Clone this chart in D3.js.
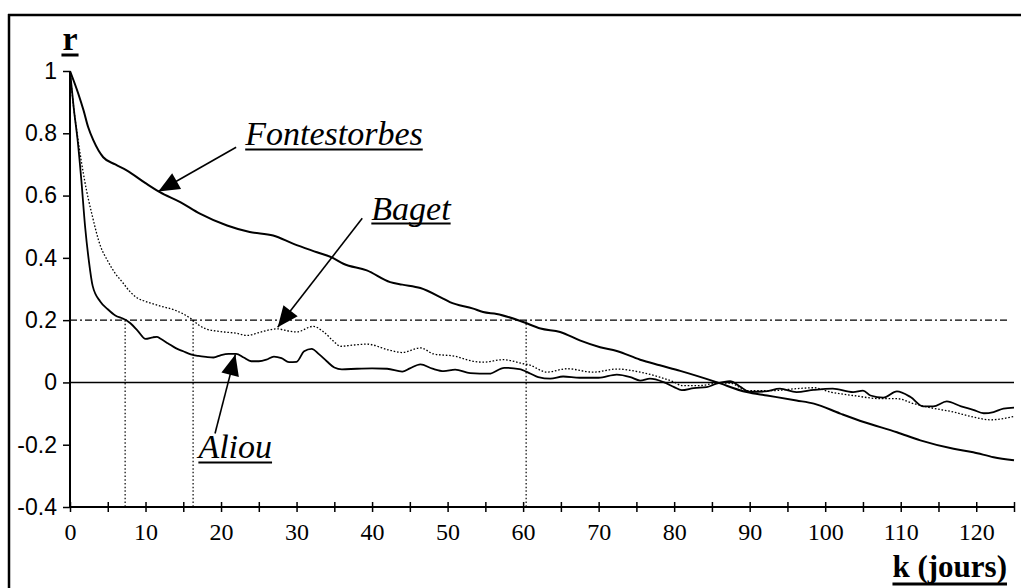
<!DOCTYPE html>
<html><head><meta charset="utf-8">
<script src="https://cdn.jsdelivr.net/npm/d3@7"></script>
<style>
html,body{margin:0;padding:0;background:#fff;}
svg{display:block;}
text{font-family:'Liberation Serif','Times New Roman',serif;fill:#000;}
</style></head><body>
<svg id="c" width="1021" height="588"></svg>
<script>
// ---- data ----
const fontK = [0,1.1,1.8,2.4,3.1,4.4,6,7.5,10,11.9,14.6,17.2,20.8,23.8,26.9,29.6,32.7,34.8,36.2,39.3,42.4,44,46.4,49.4,50.3,53.4,54.7,56.5,60,62.3,64.9,67.5,70.2,72.4,75.5,78.1,80.8,85.6,89.6,92.3,96.2,98.5,102,105.1,109.5,112.6,117,119.6,122.3,125];
const fontR = [1,0.927,0.873,0.82,0.777,0.723,0.70,0.681,0.64,0.611,0.579,0.542,0.504,0.483,0.472,0.445,0.418,0.40,0.381,0.36,0.322,0.314,0.303,0.269,0.258,0.237,0.226,0.22,0.194,0.173,0.162,0.135,0.113,0.101,0.073,0.055,0.037,0.001,-0.031,-0.042,-0.058,-0.068,-0.1,-0.127,-0.16,-0.186,-0.213,-0.224,-0.24,-0.25];

const bagetK = [0,0.5,1,2,3,4,5,6,7,8,9,10,12,14,16,17,18,20,22,23.5,25,27.4,29,30,32.2,33.6,35,35.8,37.5,39.3,42.4,44,46.4,48.1,51.2,52.5,54.7,57.4,60,61,62.3,63.1,65.8,69.3,72.4,75.5,78.1,80,81,83.4,85.2,87.4,89.6,93.2,96.2,98.5,100.7,103.7,107.3,109.5,111.7,113.9,117,119.6,121.9,125];
const bagetR = [1,0.88,0.79,0.64,0.53,0.44,0.39,0.35,0.32,0.29,0.27,0.26,0.245,0.231,0.205,0.185,0.172,0.163,0.158,0.151,0.16,0.172,0.165,0.162,0.18,0.162,0.13,0.116,0.12,0.123,0.103,0.096,0.111,0.092,0.083,0.073,0.065,0.073,0.06,0.055,0.039,0.033,0.044,0.033,0.043,0.033,0.017,0.001,-0.01,-0.01,-0.004,-0.002,-0.026,-0.026,-0.02,-0.017,-0.031,-0.042,-0.052,-0.052,-0.068,-0.081,-0.095,-0.111,-0.12,-0.109];

const aliouK = [0,0.5,1,1.5,2,2.5,3,4,5,6,7,7.5,8,9,10,11,11.5,12,13,14,15,16,17,18,19,20,21,22,23,24,25,26,27,28,29,30,31,32,33,34,35,36,38,40,42,44,45,46.4,48,49.5,51,53,55.5,57.5,59.5,61,62,63.6,65.3,67.5,70,72.4,74.2,75.5,76.8,78.6,80,81,82.6,84.3,85.6,87.4,88.7,90,92,94,96.2,98.5,101,103.7,105,106,107.7,109.5,111.3,113,114.3,116.1,118,119.6,121,122.3,123.6,125];
const aliouR = [1,0.88,0.78,0.65,0.50,0.39,0.31,0.26,0.235,0.215,0.205,0.199,0.19,0.165,0.14,0.145,0.146,0.14,0.125,0.11,0.1,0.09,0.085,0.082,0.08,0.088,0.092,0.092,0.08,0.068,0.068,0.073,0.083,0.078,0.065,0.066,0.1,0.108,0.09,0.068,0.048,0.042,0.044,0.045,0.044,0.035,0.045,0.058,0.044,0.036,0.041,0.03,0.028,0.047,0.043,0.028,0.017,0.012,0.019,0.015,0.015,0.025,0.017,0.006,0.012,0.001,-0.015,-0.025,-0.018,-0.015,-0.004,0.004,-0.013,-0.03,-0.029,-0.02,-0.031,-0.024,-0.02,-0.031,-0.026,-0.042,-0.049,-0.029,-0.047,-0.077,-0.077,-0.061,-0.077,-0.088,-0.099,-0.095,-0.084,-0.081];

const xTicks = [0,5,10,15,20,25,30,35,40,45,50,55,60,65,70,75,80,85,90,95,100,105,110,115,120,125];
const yTicks = [-0.4,-0.2,0,0.2,0.4,0.6,0.8,1];
const yTickLabels = ["-0.4","-0.2","0","0.2","0.4","0.6","0.8","1"];
const thresholdR = 0.2;
const thresholdK = [7.3, 16.3, 60.4];

const seriesNames = ["Fontestorbes","Baget","Aliou"];
// annotation anchors in data space: label [k,r], arrow start [k,r], arrow tip [k,r]
const labelPos = [[23.2,0.761],[39.9,0.523],[17.0,-0.244]];
const arrowFrom = [[22.0,0.755],[38.7,0.527],[19.2,-0.164]];
const arrowTo = [[11.7,0.613],[27.5,0.177],[21.9,0.09]];

// ---- chart ----
const svg = d3.select("#c");
const x = d3.scaleLinear().domain([0,125]).range([70,1014]);
const y = d3.scaleLinear().domain([-0.4,1]).range([507,71]);

// frame (left & top)
svg.append("line").attr("x1",9).attr("x2",9).attr("y1",14).attr("y2",588).attr("stroke","#000").attr("stroke-width",2.5);
svg.append("line").attr("x1",8).attr("x2",1021).attr("y1",15).attr("y2",15).attr("stroke","#000").attr("stroke-width",2.5);

// threshold lines
svg.append("line").attr("x1",x(0)).attr("x2",x(124.3)).attr("y1",y(thresholdR)).attr("y2",y(thresholdR))
  .attr("stroke","#000").attr("stroke-width",1.4).attr("stroke-dasharray","7,3,2,3");
svg.selectAll(".vth").data(thresholdK).join("line")
  .attr("x1",d=>x(d)).attr("x2",d=>x(d)).attr("y1",y(thresholdR)).attr("y2",y(-0.4))
  .attr("stroke","#000").attr("stroke-width",1.2).attr("stroke-dasharray","1.5,2.2");

// zero line
svg.append("line").attr("x1",x(0)).attr("x2",x(125)).attr("y1",y(0)).attr("y2",y(0)).attr("stroke","#000").attr("stroke-width",1.6);

// axes
const xAxis = d3.axisBottom(x).tickValues(xTicks).tickSize(5)
  .tickFormat(d=> d%10===0 && d<=120 ? String(d) : "");
const gx = svg.append("g").attr("transform",`translate(0,${y(-0.4)})`).call(xAxis)
  .attr("font-family","'Liberation Serif', serif").attr("font-size",24);
gx.select(".domain").attr("stroke-width",2).attr("d",`M${x(0)},0H${x(125)}`);
gx.selectAll(".tick line").attr("y1",-5).attr("y2",5).attr("stroke-width",1.5);
gx.selectAll(".tick text").attr("y",16).attr("dy","0.71em")
  .style("font-size","24px").style("font-family","'Liberation Serif', serif");

const yAxis = d3.axisLeft(y).tickValues(yTicks).tickSize(7).tickFormat((d,i)=>yTickLabels[i]);
const gy = svg.append("g").attr("transform",`translate(${x(0)},0)`).call(yAxis)
  .attr("font-family","'Liberation Sans', Arial, sans-serif").attr("font-size",23);
gy.select(".domain").attr("stroke-width",2).attr("d",`M0,${y(1)}V${y(-0.4)}`);
gy.selectAll(".tick line").attr("stroke-width",1.5);
gy.selectAll(".tick text").attr("x",-13)
  .style("font-size","23px").style("font-family","'Liberation Sans', Arial, sans-serif");

// series
const line = d3.line().x(d=>x(d[0])).y(d=>y(d[1])).curve(d3.curveMonotoneX);
const zip = (a,b)=>a.map((v,i)=>[v,b[i]]);
svg.append("path").attr("d",line(zip(fontK,fontR))).attr("fill","none").attr("stroke","#000").attr("stroke-width",2);
svg.append("path").attr("d",line(zip(bagetK,bagetR))).attr("fill","none").attr("stroke","#000").attr("stroke-width",1.3).attr("stroke-dasharray","1.6,1.8");
svg.append("path").attr("d",line(zip(aliouK,aliouR))).attr("fill","none").attr("stroke","#000").attr("stroke-width",1.8);

// annotations
seriesNames.forEach((name,i)=>{
  const lx = x(labelPos[i][0]), ly = y(labelPos[i][1]);
  const t = svg.append("text").attr("x",lx).attr("y",ly).text(name)
    .style("font-size","34px").style("font-style","italic");
  const w = t.node().getComputedTextLength();
  svg.append("line").attr("x1",lx).attr("x2",lx+w).attr("y1",ly+4).attr("y2",ly+4).attr("stroke","#000").attr("stroke-width",2);
  const x1 = x(arrowFrom[i][0]), y1 = y(arrowFrom[i][1]), x2 = x(arrowTo[i][0]), y2 = y(arrowTo[i][1]);
  svg.append("line").attr("x1",x1).attr("y1",y1).attr("x2",x2).attr("y2",y2).attr("stroke","#000").attr("stroke-width",1.6);
  const ang = Math.atan2(y2-y1,x2-x1), L = 21, W = 9;
  const bx = x2 - L*Math.cos(ang), by = y2 - L*Math.sin(ang);
  const px = -Math.sin(ang), py = Math.cos(ang);
  svg.append("path").attr("d",`M${x2},${y2}L${bx+W*px},${by+W*py}L${bx-W*px},${by-W*py}Z`).attr("fill","#000");
});

// axis titles
const rT = svg.append("text").attr("x",x(0)).attr("y",50).attr("text-anchor","middle").text("r")
  .style("font-size","34px").style("font-weight","bold");
const rw = rT.node().getComputedTextLength();
svg.append("line").attr("x1",x(0)-rw/2-1).attr("x2",x(0)+rw/2+1).attr("y1",55).attr("y2",55).attr("stroke","#000").attr("stroke-width",3);

const kT = svg.append("text").attr("x",1007).attr("y",577).attr("text-anchor","end").text("k (jours)")
  .style("font-size","31px").style("font-weight","bold");
const kw = kT.node().getComputedTextLength();
svg.append("line").attr("x1",1007-kw).attr("x2",1007).attr("y1",584).attr("y2",584).attr("stroke","#000").attr("stroke-width",3);
</script>
</body></html>
